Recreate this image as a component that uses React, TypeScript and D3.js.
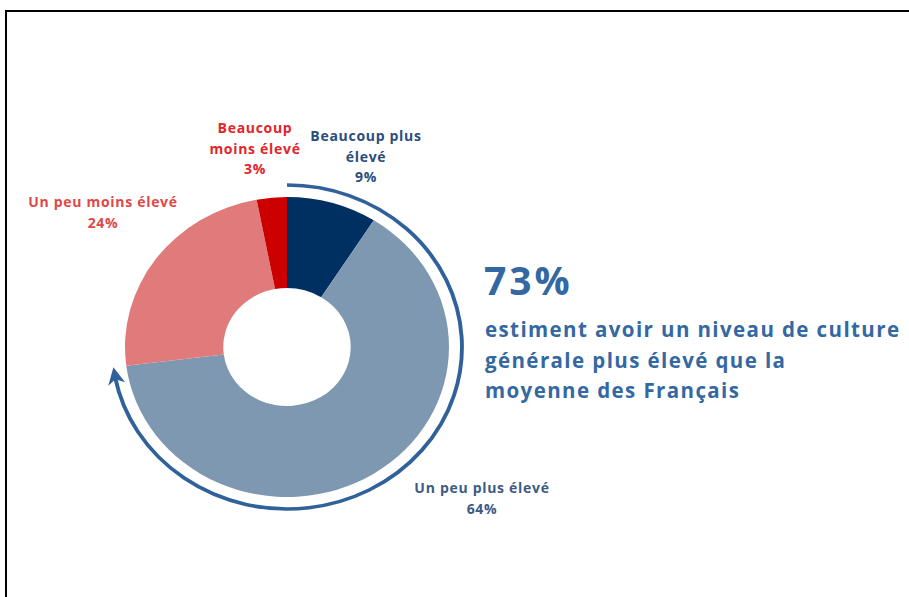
import * as d3 from "d3";

// survey answers, clockwise from 12 o'clock
const categories = ["Beaucoup plus élevé", "Un peu plus élevé", "Un peu moins élevé", "Beaucoup moins élevé"];
const values = [9, 64, 24, 3];
const labelLines = [
  ["Beaucoup plus", "élevé", "9%"],
  ["Un peu plus élevé", "64%"],
  ["Un peu moins élevé", "24%"],
  ["Beaucoup", "moins élevé", "3%"],
];
const headline = "73%";
const caption = ["estiment avoir un niveau de culture", "générale plus élevé que la", "moyenne des Français"];

const sliceColors = ["#002f62", "#7f98b2", "#e17b7b", "#cc0000"];
const labelColors = ["#2c4d7c", "#3d5b83", "#e04848", "#e3242b"];
const labelPos = [
  { x: 366, y: 141 },
  { x: 482, y: 493 },
  { x: 103, y: 207 },
  { x: 255, y: 133 },
];

const FONT = "'Open Sans', Lato, sans-serif";

export default function App() {
  const W = 909;
  const H = 597;
  const cx = 287;
  const cy = 347;
  const sx = 1.08; // the original picture is a bit stretched sideways

  const pie = d3.pie<number>().sort(null).value(d => d);
  const arcs = pie(values);
  const arc = d3.arc<d3.PieArcDatum<number>>().innerRadius(59).outerRadius(150);

  // arrow running round the two "plus élevé" slices
  const rArrow = 162;
  const aEnd = arcs[1].endAngle;
  const headLen = 17;
  const headW = 8;
  const pt = (a: number, r: number) => [r * Math.sin(a), -r * Math.cos(a)];
  const line = d3.path();
  line.arc(0, 0, rArrow, -Math.PI / 2, aEnd - Math.PI / 2 - (headLen * 0.6) / rArrow);
  const aBase = aEnd - headLen / rArrow;
  const tip = pt(aEnd, rArrow);
  const b1 = pt(aBase, rArrow + headW);
  const b2 = pt(aBase, rArrow - headW);
  const notch = pt(aBase + 5 / rArrow, rArrow);
  const head = `M${tip[0]},${tip[1]}L${b1[0]},${b1[1]}L${notch[0]},${notch[1]}L${b2[0]},${b2[1]}Z`;

  return (
    <svg width={W} height={H} style={{ position: "absolute", left: 0, top: 0, background: "#fff" }}>
      <rect x={6} y={11} width={1000} height={1000} fill="none" stroke="#000" strokeWidth={2} />
      <g transform={`translate(${cx},${cy}) scale(${sx},1)`}>
        {arcs.map((d, i) => (
          <path key={categories[i]} d={arc(d) || ""} fill={sliceColors[i]} />
        ))}
        <path d={line.toString()} fill="none" stroke="#30619b" strokeWidth={3.6} />
        <path d={head} fill="#30619b" />
      </g>
      {labelLines.map((lines, i) => (
        <text
          key={categories[i]}
          x={labelPos[i].x}
          y={labelPos[i].y}
          textAnchor="middle"
          fontFamily={FONT}
          fontWeight={700}
          fontSize={14}
          letterSpacing={0.7}
          fill={labelColors[i]}
        >
          {lines.map((t, j) => (
            <tspan key={j} x={labelPos[i].x} dy={j === 0 ? 0 : 20.5}>
              {t}
            </tspan>
          ))}
        </text>
      ))}
      <text x={484} y={295} fontFamily={FONT} fontWeight={700} fontSize={39} letterSpacing={3} fill="#3468a2">
        {headline}
      </text>
      <text x={485} y={337} fontFamily={FONT} fontWeight={700} fontSize={20.5} letterSpacing={1.4} fill="#3468a2">
        {caption.map((t, j) => (
          <tspan key={j} x={485} dy={j === 0 ? 0 : 30.5}>
            {t}
          </tspan>
        ))}
      </text>
    </svg>
  );
}
